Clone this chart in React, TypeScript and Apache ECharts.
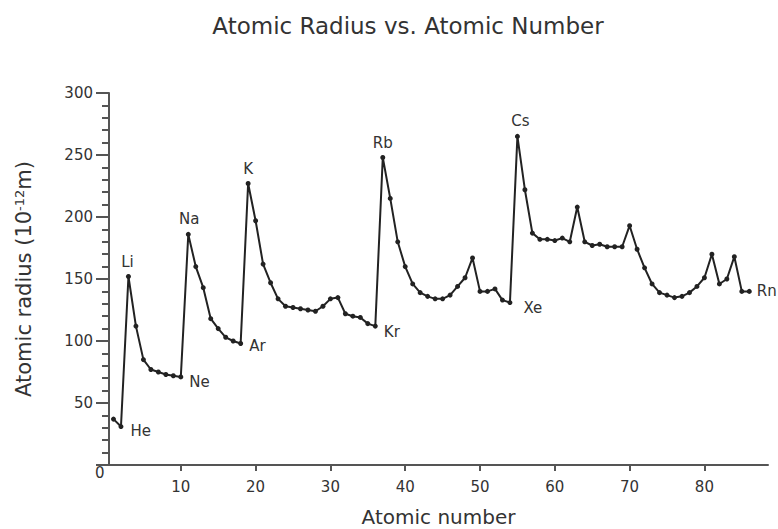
import React, { useEffect, useRef } from 'react';
import * as echarts from 'echarts';

const atomicNumbers = [
  1, 2, 3, 4, 5, 6, 7, 8, 9, 10,
  11, 12, 13, 14, 15, 16, 17, 18, 19, 20,
  21, 22, 23, 24, 25, 26, 27, 28, 29, 30,
  31, 32, 33, 34, 35, 36, 37, 38, 39, 40,
  41, 42, 43, 44, 45, 46, 47, 48, 49, 50,
  51, 52, 53, 54, 55, 56, 57, 58, 59, 60,
  61, 62, 63, 64, 65, 66, 67, 68, 69, 70,
  71, 72, 73, 74, 75, 76, 77, 78, 79, 80,
  81, 82, 83, 84, 85, 86,
];

const atomicRadii = [
  37, 31, 152, 112, 85, 77, 75, 73, 72, 71,
  186, 160, 143, 118, 110, 103, 100, 98, 227, 197,
  162, 147, 134, 128, 127, 126, 125, 124, 128, 134,
  135, 122, 120, 119, 114, 112, 248, 215, 180, 160,
  146, 139, 136, 134, 134, 137, 144, 151, 167, 140,
  140, 142, 133, 131, 265, 222, 187, 182, 182, 181,
  183, 180, 208, 180, 177, 178, 176, 176, 176, 193,
  174, 159, 146, 139, 137, 135, 136, 139, 144, 151,
  170, 146, 150, 168, 140, 140,
];

const labelSymbols = ['He', 'Li', 'Ne', 'Na', 'Ar', 'K', 'Kr', 'Rb', 'Xe', 'Cs', 'Rn'];
const labelNumbers = [2, 3, 10, 11, 18, 19, 36, 37, 54, 55, 86];

const xTickValues = [10, 20, 30, 40, 50, 60, 70, 80];

const FONT = "'DejaVu Sans', Verdana, sans-serif";

export default function App() {
  const ref = useRef<HTMLDivElement>(null);

  useEffect(() => {
    if (!ref.current) return;
    const chart = echarts.init(ref.current, null, { renderer: 'svg' });

    const labelStyle: Record<string, any> = {
      He: { position: 'right', offset: [2, 4] },
      Li: { position: 'top', offset: [-1, 0] },
      Ne: { position: 'right', offset: [1, 5] },
      Na: { position: 'top', offset: [1, 0] },
      Ar: { position: 'right', offset: [1, 3] },
      K: { position: 'top', offset: [0, 0] },
      Kr: { position: 'right', offset: [1, 6] },
      Rb: { position: 'top', offset: [0, 1] },
      Xe: { position: 'right', offset: [6, 5] },
      Cs: { position: 'top', offset: [3, 0] },
      Rn: { position: 'right', offset: [0, 0] },
    };

    const data = atomicNumbers.map((z, i) => {
      const li = labelNumbers.indexOf(z);
      if (li < 0) return [z, atomicRadii[i]];
      const sym = labelSymbols[li];
      return {
        value: [z, atomicRadii[i]],
        label: {
          show: true,
          formatter: sym,
          fontSize: 15,
          color: '#333',
          fontFamily: FONT,
          ...labelStyle[sym],
        },
      };
    });

    chart.setOption({
      animation: false,
      backgroundColor: '#fff',
      title: {
        text: 'Atomic Radius vs. Atomic Number',
        left: 403,
        top: 9,
        textAlign: 'center',
        textStyle: { fontSize: 23, fontWeight: 'normal', color: '#333', fontFamily: FONT },
      },
      grid: { left: 109, top: 93, right: 10, bottom: 64, outerBoundsMode: 'none', containLabel: false },
      xAxis: {
        type: 'value',
        min: 0.4,
        max: 88.5,
        name: 'Atomic number',
        nameLocation: 'middle',
        nameGap: 42,
        nameTextStyle: { fontSize: 20, color: '#333', fontFamily: FONT },
        axisLine: { show: true, lineStyle: { color: '#555', width: 2 } },
        axisTick: { show: true, length: 6, customValues: xTickValues, lineStyle: { color: '#555', width: 2 } },
        axisLabel: { customValues: xTickValues, fontSize: 15, color: '#333', margin: 14, fontFamily: FONT },
        splitLine: { show: false },
      },
      yAxis: {
        type: 'value',
        min: 0,
        max: 300,
        interval: 50,
        name: '{a|Atomic radius (10}{b|-12}{a|m)}',
        nameLocation: 'middle',
        nameGap: 75,
        nameTextStyle: {
          fontSize: 21,
          color: '#333',
          fontFamily: FONT,
          rich: {
            a: { fontSize: 21, color: '#333', fontFamily: FONT },
            b: { fontSize: 13, color: '#333', fontFamily: FONT, verticalAlign: 'top' },
          },
        },
        axisLine: { show: true, lineStyle: { color: '#555', width: 2 } },
        axisTick: { show: true, length: 13, lineStyle: { color: '#555', width: 2 } },
        minorTick: { show: true, splitNumber: 5, length: 7, lineStyle: { color: '#555', width: 2 } },
        axisLabel: {
          fontSize: 15,
          color: '#333',
          margin: 16,
          fontFamily: FONT,
          formatter: (v: number) => (v === 0 ? '' : String(v)),
        },
        splitLine: { show: false },
        minorSplitLine: { show: false },
      },
      graphic: [
        {
          type: 'text',
          left: 95,
          top: 465,
          style: { text: '0', fontSize: 15, fill: '#333', fontFamily: FONT },
        },
      ],
      series: [
        {
          type: 'line',
          data,
          showSymbol: true,
          showAllSymbol: true,
          symbol: 'circle',
          symbolSize: 5,
          itemStyle: { color: '#222' },
          lineStyle: { color: '#222', width: 2 },
          label: { show: false },
          clip: false,
        },
      ],
    });

    return () => chart.dispose();
  }, []);

  return (
    <div
      ref={ref}
      style={{ position: 'fixed', left: 0, top: 0, width: 778, height: 529, background: '#fff' }}
    />
  );
}
